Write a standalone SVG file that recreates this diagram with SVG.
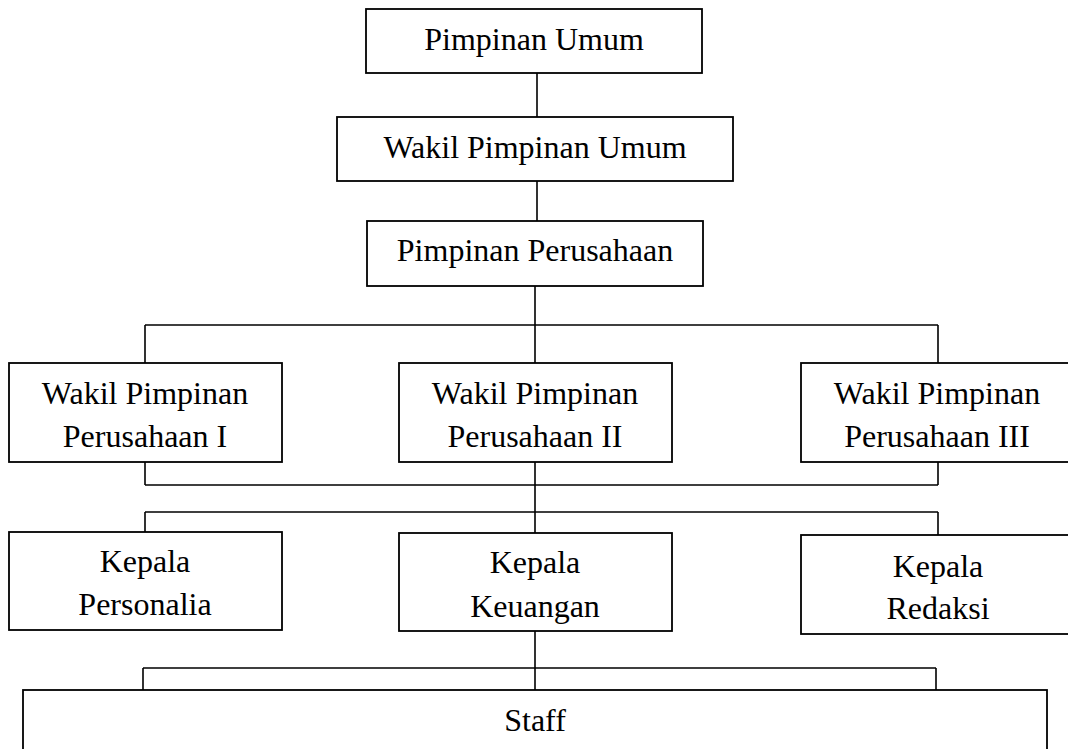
<svg xmlns="http://www.w3.org/2000/svg" width="1068" height="749" viewBox="0 0 1068 749">
<style>
.box{fill:#fff;stroke:#000;stroke-width:1.8}
.t{font-family:"Liberation Serif","Times New Roman",serif;font-size:32px;fill:#000;text-anchor:middle}
.c{fill:none;stroke:#000;stroke-width:1.6}
</style>
<rect width="1068" height="749" fill="#fff"/>
<g id="connectors">
<path class="c" d="M537 73V117M537 181V221M535 286V363M145 325H938M145 325V363M938 325V363"/>
<path class="c" d="M145 462V485M938 462V485M145 485H938M535 462V533M145 512H938M145 512V532M938 512V535"/>
<path class="c" d="M535 631V690M143 668H936M143 668V690M936 668V690"/>
</g>
<g id="pimpinan-umum"><rect class="box" x="366" y="9" width="336" height="64"/><text class="t" x="534" y="50">Pimpinan Umum</text></g>
<g id="wakil-pimpinan-umum"><rect class="box" x="337" y="117" width="396" height="64"/><text class="t" x="535" y="158">Wakil Pimpinan Umum</text></g>
<g id="pimpinan-perusahaan"><rect class="box" x="367" y="221" width="336" height="65"/><text class="t" x="535" y="261">Pimpinan Perusahaan</text></g>
<g id="wakil-1"><rect class="box" x="9" y="363" width="273" height="99"/><text class="t" x="145" y="404">Wakil Pimpinan</text><text class="t" x="145" y="447">Perusahaan I</text></g>
<g id="wakil-2"><rect class="box" x="399" y="363" width="273" height="99"/><text class="t" x="535" y="404">Wakil Pimpinan</text><text class="t" x="535" y="447">Perusahaan II</text></g>
<g id="wakil-3"><rect class="box" x="801" y="363" width="275" height="99"/><text class="t" x="937" y="404">Wakil Pimpinan</text><text class="t" x="937" y="447">Perusahaan III</text></g>
<g id="kepala-personalia"><rect class="box" x="9" y="532" width="273" height="98"/><text class="t" x="145" y="572">Kepala</text><text class="t" x="145" y="615">Personalia</text></g>
<g id="kepala-keuangan"><rect class="box" x="399" y="533" width="273" height="98"/><text class="t" x="535" y="573">Kepala</text><text class="t" x="535" y="617">Keuangan</text></g>
<g id="kepala-redaksi"><rect class="box" x="801" y="535" width="275" height="99"/><text class="t" x="938" y="577">Kepala</text><text class="t" x="938" y="619">Redaksi</text></g>
<g id="staff"><rect class="box" x="23" y="690" width="1024" height="80"/><text class="t" x="535" y="731">Staff</text></g>
</svg>
